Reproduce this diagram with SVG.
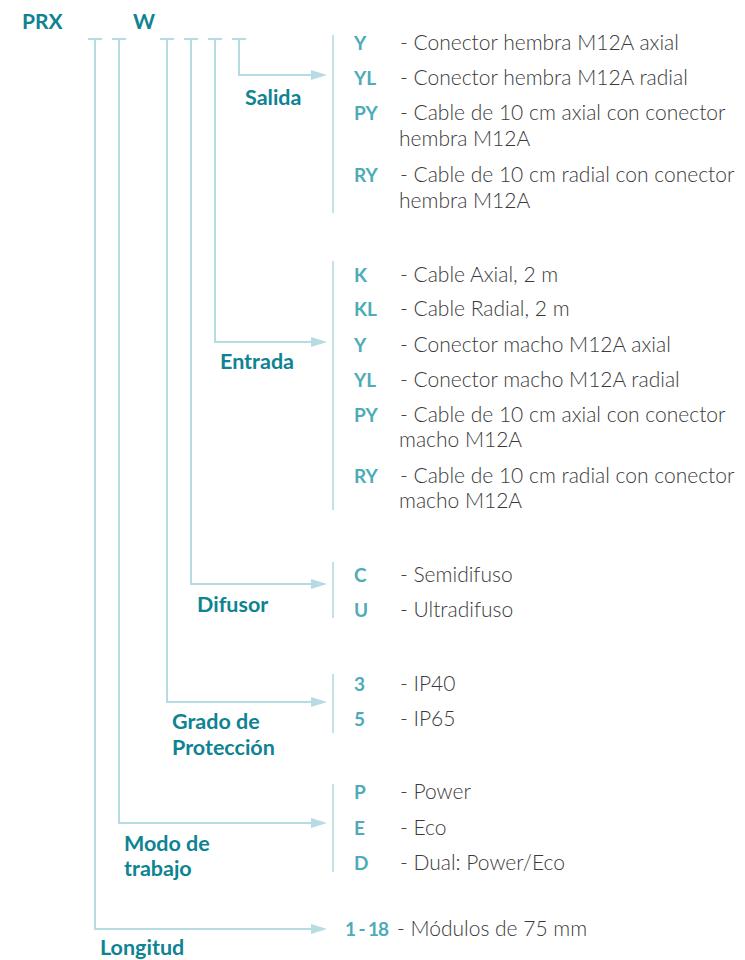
<svg xmlns="http://www.w3.org/2000/svg" width="745" height="960" viewBox="0 0 745 960">
<defs>
<style>
.lbl{font-family:Lato,"Liberation Sans",sans-serif;font-weight:700;font-size:21.5px;fill:#0e8392}
.hd{font-family:Lato,"Liberation Sans",sans-serif;font-weight:700;font-size:21px;fill:#0e8392}
.code{font-family:Lato,"Liberation Sans",sans-serif;font-weight:700;font-size:19px;fill:#4eabb8}
.desc{font-family:Lato,"Liberation Sans",sans-serif;font-weight:300;font-size:21px;fill:#3a3a3a}
.ln{fill:none;stroke:#b5dce2;stroke-width:2}
.br{stroke:#c2e2e7;stroke-width:2}
</style>
<marker id="arr" markerUnits="userSpaceOnUse" markerWidth="17" markerHeight="12" refX="1" refY="6" orient="auto">
<path d="M0,1 L16,6 L0,11 z" fill="#b5dce2"/>
</marker>
</defs>
<rect width="745" height="960" fill="#ffffff"/>
<g id="header">
<text class="hd" x="22" y="29">PRX</text>
<text class="hd" x="133" y="29">W</text>
</g>
<g id="connectors">
<path class="ln" d="M88,39 H102 M112,39 H126 M160,39 H174 M184,39 H198 M208,39 H222 M232,39 H246"/>
<path class="ln" d="M239,39 V75 H312" marker-end="url(#arr)"/>
<path class="ln" d="M215,39 V342 H312" marker-end="url(#arr)"/>
<path class="ln" d="M191,39 V584 H312" marker-end="url(#arr)"/>
<path class="ln" d="M167,39 V702 H312" marker-end="url(#arr)"/>
<path class="ln" d="M119,39 V823 H312" marker-end="url(#arr)"/>
<path class="ln" d="M95,39 V929 H312" marker-end="url(#arr)"/>
</g>
<g id="salida">
<text class="lbl" x="245" y="105">Salida</text>
<line class="br" x1="333" y1="35" x2="333" y2="213"/>
<text class="code" x="354" y="50">Y</text><text class="desc" x="400" y="50">- Conector hembra M12A axial</text>
<text class="code" x="354" y="85">YL</text><text class="desc" x="400" y="85">- Conector hembra M12A radial</text>
<text class="code" x="354" y="120">PY</text><text class="desc" x="400" y="120">- Cable de 10 cm axial con conector</text>
<text class="desc" x="399" y="146">hembra M12A</text>
<text class="code" x="354" y="182">RY</text><text class="desc" x="400" y="182">- Cable de 10 cm radial con conector</text>
<text class="desc" x="399" y="208">hembra M12A</text>
</g>
<g id="entrada">
<text class="lbl" x="220" y="369">Entrada</text>
<line class="br" x1="333" y1="261" x2="333" y2="510"/>
<text class="code" x="354" y="282">K</text><text class="desc" x="400" y="282">- Cable Axial, 2 m</text>
<text class="code" x="354" y="316">KL</text><text class="desc" x="400" y="316">- Cable Radial, 2 m</text>
<text class="code" x="354" y="352">Y</text><text class="desc" x="400" y="352">- Conector macho M12A axial</text>
<text class="code" x="354" y="387">YL</text><text class="desc" x="400" y="387">- Conector macho M12A radial</text>
<text class="code" x="354" y="422">PY</text><text class="desc" x="400" y="422">- Cable de 10 cm axial con conector</text>
<text class="desc" x="399" y="447">macho M12A</text>
<text class="code" x="354" y="483">RY</text><text class="desc" x="400" y="483">- Cable de 10 cm radial con conector</text>
<text class="desc" x="399" y="508">macho M12A</text>
</g>
<g id="difusor">
<text class="lbl" x="197" y="612">Difusor</text>
<line class="br" x1="333" y1="562" x2="333" y2="618"/>
<text class="code" x="354" y="582">C</text><text class="desc" x="400" y="582">- Semidifuso</text>
<text class="code" x="354" y="617">U</text><text class="desc" x="400" y="617">- Ultradifuso</text>
</g>
<g id="grado">
<text class="lbl" x="172" y="729">Grado de</text>
<text class="lbl" x="172" y="755">Protección</text>
<line class="br" x1="333" y1="674" x2="333" y2="733"/>
<text class="code" x="354" y="691">3</text><text class="desc" x="400" y="691">- IP40</text>
<text class="code" x="354" y="726">5</text><text class="desc" x="400" y="726">- IP65</text>
</g>
<g id="modo">
<text class="lbl" x="124" y="851">Modo de</text>
<text class="lbl" x="124" y="876">trabajo</text>
<line class="br" x1="333" y1="784" x2="333" y2="872"/>
<text class="code" x="354" y="799">P</text><text class="desc" x="400" y="799">- Power</text>
<text class="code" x="354" y="835">E</text><text class="desc" x="400" y="835">- Eco</text>
<text class="code" x="354" y="870">D</text><text class="desc" x="400" y="870">- Dual: Power/Eco</text>
</g>
<g id="longitud">
<text class="lbl" x="100" y="955">Longitud</text>
<text class="code" x="345" y="936" textLength="44" lengthAdjust="spacing">1 - 18</text>
<text class="desc" x="397" y="936">- Módulos de 75 mm</text>
</g>
</svg>
